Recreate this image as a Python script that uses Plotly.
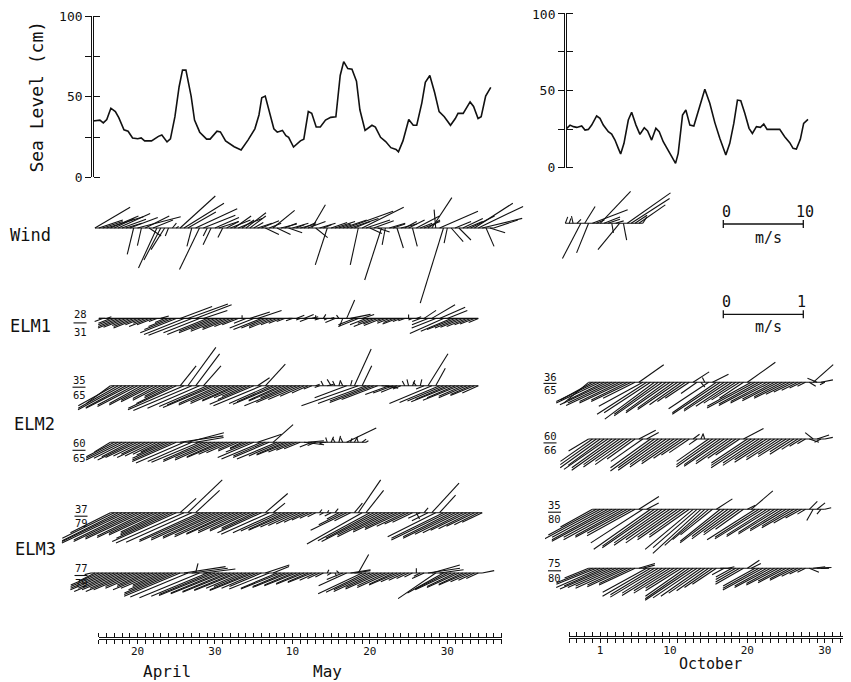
import plotly.graph_objects as go

# ------------------------------------------------------------------ data
# Day numbers: spring panel counts from 31 March (1 April = 1, 1 May = 31);
# autumn panel counts from 30 September (1 October = 1).
SEA_SPRING_DAY = [14.25, 15.14, 15.58, 16.03, 16.56, 17.14, 17.58, 18.25, 18.78, 19.36,
                  20.03, 20.47, 20.92, 21.81, 22.70, 23.14, 23.81, 24.25, 24.83, 25.37,
                  25.81, 26.25, 26.92, 27.36, 28.03, 28.92, 29.37, 30.26, 30.70, 31.37,
                  32.48, 33.37, 34.26, 35.15, 35.68, 36.04, 36.49, 36.93, 37.60, 38.04,
                  38.71, 39.16, 39.51, 40.14, 41.03, 41.47, 42.05, 42.49, 43.07, 43.60,
                  44.27, 44.94, 45.61, 46.17, 46.62, 47.15, 47.69, 48.27, 48.71, 49.38,
                  49.82, 50.27, 50.71, 51.38, 52.04, 52.71, 53.38, 53.69, 54.27, 55.02,
                  55.60, 56.05, 56.71, 57.16, 57.74, 58.36, 58.94, 59.61, 60.41, 61.03,
                  61.38, 62.05, 62.94, 63.39, 63.97, 64.37, 64.95, 65.61]
SEA_SPRING_CM = [35.0, 35.5, 33.8, 35.9, 42.9, 40.8, 37.0, 29.5, 28.6, 24.4,
                 23.9, 24.4, 22.6, 22.6, 25.4, 26.3, 22.0, 23.9, 37.6, 56.2,
                 66.5, 66.5, 50.4, 35.5, 28.0, 23.7, 23.7, 28.6, 28.2, 22.6,
                 19.0, 16.9, 23.1, 30.1, 38.7, 49.4, 50.4, 41.9, 30.1, 28.0,
                 29.1, 25.9, 24.8, 18.8, 22.6, 23.7, 40.8, 39.7, 31.2, 31.2,
                 35.5, 37.2, 37.6, 63.2, 71.8, 67.5, 67.1, 59.6, 41.9, 29.1,
                 30.8, 32.3, 31.2, 24.8, 22.2, 18.4, 17.3, 15.8, 22.6, 35.9,
                 32.3, 32.3, 46.2, 59.0, 63.2, 52.6, 40.8, 37.6, 32.3, 36.5,
                 39.7, 39.7, 46.8, 44.0, 36.5, 37.6, 50.4, 55.8]

SEA_FALL_DAY = [-3.32, -2.89, -2.46, -2.03, -1.39, -0.96, -0.53, -0.10, 0.54, 0.97,
                1.40, 2.05, 2.48, 2.91, 3.34, 3.64, 4.07, 4.63, 5.06, 5.62,
                6.13, 6.69, 7.12, 7.64, 8.19, 8.62, 9.14, 10.00, 10.73, 11.07,
                11.63, 12.06, 12.58, 13.09, 13.44, 13.95, 14.51, 15.15, 15.80, 16.44,
                17.22, 17.73, 18.25, 18.72, 19.15, 19.67, 20.22, 20.65, 21.17, 21.69,
                22.12, 22.55, 23.32, 24.18, 24.82, 25.47, 25.90, 26.33, 26.84, 27.27, 27.83]
SEA_FALL_CM = [25.5, 27.6, 26.6, 26.1, 27.0, 24.4, 24.8, 27.6, 33.5, 32.0,
               27.6, 23.3, 21.8, 17.9, 12.5, 8.9, 15.8, 30.9, 35.9, 27.6,
               21.6, 25.9, 23.8, 17.9, 25.5, 23.3, 16.8, 8.9, 2.8, 9.3,
               34.1, 37.4, 27.6, 27.0, 33.0, 41.7, 50.8, 41.7, 29.2, 19.0,
               8.2, 15.8, 28.7, 43.8, 43.4, 35.2, 25.5, 22.2, 26.6, 26.1,
               28.3, 24.8, 24.8, 24.8, 20.1, 16.2, 12.5, 12.1, 18.4, 28.7, 31.3]

STEP_DAYS = 0.5   # all stick series are 12-hourly

# Wind (m/s), east (u) and north (v) components
WIND_SPRING_START = 14.5
WIND_SPRING_U = [4.4, 3.0, 2.5, 4.6, 3.5, 2.5, 4.0, 3.0, 2.0, 3.5,
                 -0.8, 5.4, -0.5, 3.0, 1.5, 2.5, -2.3, -2.1, -1.7, -0.4,
                 0.5, 0.3, 4.4, 5.0, 3.5, -0.6, 5.2, -2.5, 4.0, -0.5,
                 -1.0, 3.0, 2.5, -0.6, 1.5, 2.5, 2.1, 3.0, 1.5, 2.5,
                 2.0, 1.2, 1.8, 2.2, 1.7, 1.5, 2.7, 1.7, 2.0, 1.5,
                 1.7, 2.0, 1.0, 2.0, 1.5, 2.2, 1.7, 1.5, 2.0, 1.0,
                 -1.5, 2.0, 2.5, 1.5, 3.0, 5.8, 3.5, 2.0, -1.0, 5.2,
                 3.0, 1.5, 2.5, 1.5, -2.1, -0.4, 2.0, 1.5, 0.8, 2.0,
                 1.5, 2.0, 0.6, 2.9, 1.5, 2.0, 1.5, 2.5, -0.2, 4.8,
                 -2.9, -0.4, 1.5, 2.0, 1.5, 2.5, 2.0, 3.0, 4.8, 5.6,
                 5.0, 1.0, 1.9, 3.0]
WIND_SPRING_V = [2.6, 1.0, 0.8, 1.4, 1.5, 1.2, 1.8, 1.1, 0.6, 1.3,
                 -3.3, 1.4, -2.2, 1.5, -1.0, 1.0, -5.0, -4.0, -2.7, -1.0,
                 0.6, 0.2, 4.0, 3.1, 2.0, -2.3, 2.4, -5.2, 1.6, -1.0,
                 -2.1, 1.3, 0.8, -1.2, 0.8, 1.0, 1.5, 1.2, 1.0, 1.9,
                 1.5, 0.7, 0.6, 0.9, -0.8, 0.6, 2.2, -0.8, 0.5, 0.6,
                 -0.6, 0.6, 0.4, 0.5, 0.7, 0.8, 2.9, -1.2, 0.6, 0.4,
                 -4.6, 0.7, 0.8, 0.5, 1.0, 2.1, 1.2, 0.8, -4.6, 2.6,
                 1.0, -0.7, 0.9, -0.5, -6.5, -2.1, 0.6, 0.5, -2.5, 0.5,
                 0.8, 1.0, -2.3, 1.5, 0.6, 0.8, 1.0, 3.8, 2.3, 2.1,
                 -9.4, -1.9, -1.7, 0.8, -1.5, 1.2, 0.8, 1.5, 3.1, 2.7,
                 1.2, -2.3, -0.6, 1.0]

WIND_FALL_START = -3.5
WIND_FALL_U = [0.3, 0.2, -0.2, 0.5, -2.3, 1.3, -1.5, 4.4, 1.0, 3.8,
               2.0, 1.5, 0.2, 1.0, -2.7, 0.4, 5.4, 4.8, 1.5, 3.3, 0.5]
WIND_FALL_V = [0.8, 0.6, 0.9, 0.5, -4.4, 2.1, -3.7, 1.7, 0.4, 4.0,
               0.8, 0.5, -1.2, 0.3, -3.3, -2.1, 3.8, 3.1, 1.0, 2.3, 0.8]

# Currents (cm/s)
ELM1_SPRING_START = 15.0
ELM1_SPRING_U = [8, -10, 6, -15, -20, -25, -30, -28, -22, -25,
                 -30, -20, -15, -25, -20, -10, 10, -12, -25, -35,
                 -45, 40, -50, 50, -54, 45, -45, 30, -50, -40,
                 -45, -35, -40, -30, -35, -25, -20, 0, -15, 25,
                 -30, 30, -35, -30, -25, -30, -20, -15, -10, 5,
                 -8, 10, -5, 12, -10, 8, 0, -6, 3, -4,
                 4, -12, -3, -4, 10, 25, -20, -25, 15, -20,
                 -15, -25, -18, -22, -10, -15, -12, -18, -10, -8,
                 0, -5, 6, -10, 15, -20, 29, -30, 32, -42,
                 25, -38, -35, -30, -28, -25, -20, -18, -12]
ELM1_SPRING_V = [0, -4, 2, -6, -8, -10, -12, -11, -9, -10,
                 -12, -8, -6, -10, -8, -4, 3, -5, -10, -14,
                 -18, 15, -20, 18, -21, 17, -18, 10, -20, -16,
                 -18, -14, -16, -12, -14, -10, -8, 4, -6, 8,
                 -12, 10, -14, -12, -10, -12, -8, -6, -4, 0,
                 -3, 4, -2, 5, -4, 2, 4, -2, 5, -2,
                 1, -5, 4, -10, 23, 5, -8, -10, 5, -8,
                 -6, -10, -7, -9, -4, -6, -5, -7, -4, -3,
                 5, -2, 2, -4, 10, -8, 17, -12, 14, -19,
                 10, -16, -14, -12, -11, -10, -8, -7, -5]

ELM2A_SPRING_START = 16.5
ELM2A_SPRING_U = [-30, -45, -50, -55, -50, -55, -45, -50, -40, -45,
                  -35, -40, -30, -35, -25, -30, -45, -60, 20, -70,
                  35, -73, 30, -65, 22, -60, -55, -65, -50, -55,
                  -45, -50, -40, -45, -35, -30, -40, -55, 15, -60,
                  25, -50, -45, -55, -40, -45, -35, -60, -50, -40,
                  -30, -20, -10, 5, -6, -3, 8, -5, -3, 2,
                  -3, -40, 2, 21, -71, 12, -60, -50, -55, -45,
                  20, 16, -30, -25, -20, -10, -3, -2, 3, -4,
                  2, -10, 25, -53, 12, -50, -45, -40, -50, -35,
                  -45, -30, -35, -25, -30, -20]
ELM2A_SPRING_V = [-22, -25, -28, -30, -27, -28, -24, -26, -22, -24,
                  -18, -20, -16, -18, -13, -15, -22, -28, 25, -30,
                  48, -31, 40, -28, 25, -26, -24, -27, -22, -24,
                  -20, -22, -18, -19, -15, -13, -17, -23, 10, -25,
                  27, -22, -20, -23, -18, -19, -15, -25, -21, -17,
                  -13, -9, -4, 2, -2, 6, 2, 8, 6, 7,
                  6, -15, 7, 46, -25, 25, -22, -19, -21, -17,
                  -2, -3, -11, -9, -8, -4, 6, 8, 7, 5,
                  8, -4, 40, -22, 22, -21, -19, -17, -20, -15,
                  -18, -13, -15, -11, -12, -9]

ELM2B_SPRING_START = 16.5
ELM2B_SPRING_U = [-20, -35, -40, -45, -40, -35, -45, -40, -35, -30,
                  -40, -35, -30, -25, -35, -45, -50, -55, 54, -60,
                  45, -55, 35, -60, -50, -55, -45, -50, -40, -45,
                  -35, -30, -20, -25, -15, -20, -30, -45, 30, -50,
                  -40, -45, 25, -50, -40, -35, -40, -30, -25, -20,
                  25, 20, -15, -10, 8, -5, -2, 3, -3, 2,
                  -3, 37, 2, 4, -2, 5, 3]
ELM2B_SPRING_V = [-12, -18, -20, -22, -20, -18, -22, -19, -17, -15,
                  -19, -17, -15, -12, -16, -20, -22, -24, 8, -26,
                  12, -24, 6, -25, -22, -24, -20, -22, -18, -19,
                  -15, -13, -9, -11, -7, -8, -12, -19, 10, -21,
                  -17, -19, 22, -21, -17, -15, -16, -12, -10, -8,
                  -3, 2, -6, -4, 0, -2, 6, 7, 5, 8,
                  6, 18, 5, 7, 6, 4, 2]

ELM3A_SPRING_START = 16.5
ELM3A_SPRING_U = [-50, -65, -70, -75, -80, -70, -75, -65, -70, -60,
                  -65, -55, -60, -50, -55, -60, -70, -80, 20, -85,
                  43, -82, 30, -75, -80, -70, -75, -65, -70, -60,
                  -65, -55, -60, -50, -55, -45, -50, -40, -45, -55,
                  28, -60, 15, -55, -50, -45, -50, -40, -35, -30,
                  -25, -20, -15, -10, 3, -5, 2, -8, 4, -15,
                  -30, -45, -20, 10, 28, -69, 22, -65, -60, -70,
                  -55, -60, -45, -50, -40, -45, -35, -30, -25, 4,
                  -15, 5, -20, 34, -60, 20, -65, -70, -60, -65,
                  -55, -50, -45, -40, -35, -30, -25]
ELM3A_SPRING_V = [-25, -32, -35, -36, -38, -34, -36, -31, -33, -29,
                  -31, -26, -28, -24, -26, -28, -32, -36, 18, -38,
                  41, -37, 28, -34, -36, -32, -34, -30, -32, -28,
                  -30, -26, -27, -23, -25, -21, -23, -19, -21, -25,
                  24, -27, 12, -25, -23, -21, -22, -18, -16, -14,
                  -12, -9, -7, -5, 4, -3, 3, -4, 5, -8,
                  -15, -22, -10, 12, 41, -39, 28, -35, -32, -36,
                  -28, -30, -22, -24, -19, -21, -17, -14, -12, -8,
                  -7, 6, -10, 37, -30, 22, -32, -34, -30, -32,
                  -27, -25, -22, -20, -17, -15, -12]

ELM3B_SPRING_START = 14.0
ELM3B_SPRING_U = [-8, -20, -35, -40, -45, -50, -45, -55, -50, -45,
                  -55, -50, -40, -45, -35, -40, -50, -45, -35, -40,
                  -50, -60, -65, -70, 52, -72, 45, 3, -75, 40,
                  -70, -65, -70, -60, -65, -55, -60, -50, -55, -45,
                  -40, -50, -55, -45, -40, 30, -50, 20, -45, -50,
                  -40, -45, -35, -40, -30, -35, -25, -30, -20, -15,
                  -10, 2, -5, 2, -3, -20, -35, 25, 20, 13,
                  -55, -50, -45, -50, -40, -45, -35, -40, -30, -35,
                  -25, -20, -15, -10, 0, -8, -15, 40, 35, -47,
                  30, -45, -40, -45, -35, -40, -30, -35, -25, -20,
                  -15, 15]
ELM3B_SPRING_V = [-2, -10, -15, -17, -19, -21, -19, -23, -21, -19,
                  -23, -21, -17, -19, -15, -17, -21, -19, -15, -17,
                  -21, -25, -27, -29, 8, -30, 6, 12, -31, 5,
                  -29, -27, -28, -25, -26, -23, -24, -21, -22, -19,
                  -17, -21, -22, -19, -17, 10, -20, 8, -19, -20,
                  -17, -18, -15, -16, -13, -14, -11, -12, -9, -7,
                  -5, 4, -3, -4, 3, -8, -16, 4, 3, 23,
                  -26, -24, -21, -23, -18, -20, -16, -18, -14, -15,
                  -11, -9, -7, -5, 6, -4, -7, 6, 10, -32,
                  4, -25, -20, -21, -17, -18, -14, -15, -11, -9,
                  -7, 3]

ELM2A_FALL_START = -0.5
ELM2A_FALL_U = [-31, -40, -50, -55, -45, -60, -55, -62, -50, -55,
                -45, -50, -40, 31, -55, -62, -58, -62, -55, -60,
                -50, -55, -45, -50, -40, -35, -30, 20, -20, 5,
                -3, -50, 20, -55, -60, -50, -55, -45, -40, -35,
                -30, 35, -55, -60, -50, -55, -45, -50, -40, -45,
                -35, -40, -30, -25, -20, -15, -10, 8, 25, -12,
                15, -6]
ELM2A_FALL_V = [-26, -22, -24, -26, -22, -28, -26, -29, -24, -26,
                -22, -24, -20, 22, -30, -40, -38, -46, -40, -42,
                -36, -38, -32, -34, -28, -24, -20, 13, -14, -6,
                6, -33, 10, -38, -40, -34, -36, -30, -26, -22,
                -20, 25, -30, -32, -27, -29, -24, -26, -21, -23,
                -18, -20, -15, -12, -10, -7, -5, -5, 22, 5,
                3, -3]

ELM2B_FALL_START = -0.5
ELM2B_FALL_U = [-25, -40, -45, -50, -45, -55, -50, -55, -45, -50,
                -40, -45, -35, 21, -40, 15, -50, -55, -50, -55,
                -45, -50, -40, -45, -35, -30, -25, 8, -10, 3,
                -2, -40, -45, -50, -45, -50, -40, -45, -35, -30,
                25, -45, -50, -55, -45, -50, -40, -45, -35, -40,
                -30, -35, -25, -30, -20, -15, -10, 12, -10, 15,
                -8, 10]
ELM2B_FALL_V = [-15, -28, -32, -36, -33, -38, -36, -39, -32, -35,
                -28, -32, -25, 11, -28, 8, -36, -40, -36, -39,
                -32, -35, -28, -31, -24, -20, -17, 6, -7, 7,
                6, -28, -32, -35, -32, -34, -28, -31, -24, -20,
                13, -30, -33, -36, -30, -33, -26, -29, -23, -26,
                -19, -22, -16, -19, -13, -9, -6, -4, 8, 5,
                -4, 2]

ELM3A_FALL_START = 0.0
ELM3A_FALL_U = [-40, -60, -75, -65, -70, -75, -65, -70, -60, -65,
                -55, -60, 25, -65, 15, -71, -65, -70, -60, -65,
                -55, -60, -50, -55, -45, -50, -60, -55, -60, -50,
                -45, -40, 20, -50, -55, -45, -50, -40, -45, -35,
                10, 27, -60, -55, -60, -50, -55, -45, -50, -40,
                -45, -35, -40, -30, -20, -10, 10, -8, 10, -5,
                8]
ELM3A_FALL_V = [-22, -32, -40, -35, -38, -40, -35, -38, -33, -35,
                -30, -33, 16, -42, 8, -50, -46, -48, -42, -45,
                -38, -42, -35, -38, -32, -35, -50, -48, -55, -45,
                -38, -32, 13, -40, -42, -34, -37, -29, -32, -25,
                5, 23, -38, -35, -37, -32, -34, -29, -31, -25,
                -27, -21, -23, -17, -11, -6, 10, -14, 8, -6,
                2]

ELM3B_FALL_START = -0.5
ELM3B_FALL_U = [-30, -45, -50, -55, -50, -60, -55, -50, -55, -45,
                -50, -40, -45, 20, 15, -55, -60, -55, -60, -50,
                -55, -45, -50, -40, -45, -50, -55, -60, -55, -50,
                -45, -40, -35, -30, 10, -15, 8, -20, -25, -30,
                -35, 15, 12, -40, -45, -50, -40, -45, -35, -40,
                -30, -35, -25, -30, -20, -15, -10, 12, 15, 18,
                10, 6]
ELM3B_FALL_V = [-12, -18, -20, -24, -22, -26, -24, -22, -25, -21,
                -23, -19, -21, 6, 4, -30, -35, -33, -36, -31,
                -34, -28, -31, -25, -28, -35, -38, -40, -37, -35,
                -31, -28, -24, -20, 0, -8, 2, -11, -14, -17,
                -20, 10, 6, -22, -25, -27, -22, -24, -19, -21,
                -16, -18, -13, -15, -10, -7, -5, -5, 2, 1,
                0, 1]

SPRING_LABEL_DAYS = [20, 30, 40, 50, 60]
SPRING_LABEL_TEXT = ["20", "30", "10", "20", "30"]
FALL_LABEL_DAYS = [1, 10, 20, 30]
FALL_LABEL_TEXT = ["1", "10", "20", "30"]
LEVEL_TICKS = [0, 25, 50, 75, 100]
LEVEL_LABELS = ["0", "", "50", "", "100"]

# ------------------------------------------------------------------ layout constants (pixels)
PAGE_W, PAGE_H = 851, 682
BODY_MARGIN = 8                      # default page margin around the plot div
W, H = PAGE_W - BODY_MARGIN, PAGE_H - BODY_MARGIN
PPD = 7.745        # pixels per day on both time axes
CUR_PX = 0.8       # pixels per cm/s   (1 m/s bar = 80 px)
WIND_PX = 8.0      # pixels per m/s    (10 m/s bar = 80 px)
STICK_TOP, STICK_BOT = 184.0, 612.0

FONT = "DejaVu Sans Mono"
INK = "#111111"


def fx(px):
    return (px - BODY_MARGIN) / W


def fy(py):
    return 1 - (py - BODY_MARGIN) / H


def day_spring(px):
    return 15 + (px - 98.8) / PPD


def day_fall(px):
    return 1 + (px - 600.2) / PPD


def yu(py):
    return (STICK_BOT - py) / CUR_PX


ROW_BASE_SPRING = {"wind": 228.0, "elm1": 318.4, "elm2a": 385.8, "elm2b": 442.3,
                   "elm3a": 512.7, "elm3b": 573.0}
ROW_BASE_FALL = {"wind": 223.3, "elm2a": 382.3, "elm2b": 439.0,
                 "elm3a": 509.3, "elm3b": 568.3}


def sticks(start, u, v, base_px, scale_px, xaxis):
    base = yu(base_px)
    n = min(len(u), len(v))
    t = [start + i * STEP_DAYS for i in range(n)]
    xs = [t[0], t[-1], None]
    ys = [base, base, None]
    for ti, a, b in zip(t, u, v):
        xs += [ti, ti + a * scale_px / PPD, None]
        ys += [base, base + b * scale_px / CUR_PX, None]
    return go.Scatter(x=xs, y=ys, mode="lines", xaxis=xaxis, yaxis="y7",
                      line=dict(color=INK, width=1.1), hoverinfo="skip",
                      showlegend=False)


def anchor_trace(xa, ya, x, y):
    # invisible point so that the axis-only subplot is created and drawn
    return go.Scatter(x=[x], y=[y], mode="markers", xaxis=xa, yaxis=ya,
                      marker=dict(size=1, opacity=0), hoverinfo="skip",
                      showlegend=False)


fig = go.Figure()

# sea level
fig.add_trace(go.Scatter(x=SEA_SPRING_DAY, y=SEA_SPRING_CM, mode="lines",
                         xaxis="x3", yaxis="y3", line=dict(color=INK, width=1.6),
                         hoverinfo="skip", showlegend=False))
fig.add_trace(go.Scatter(x=SEA_FALL_DAY, y=SEA_FALL_CM, mode="lines",
                         xaxis="x5", yaxis="y5", line=dict(color=INK, width=1.6),
                         hoverinfo="skip", showlegend=False))

# axis-only subplots
fig.add_trace(anchor_trace("x", "y", 30, 0.5))
fig.add_trace(anchor_trace("x2", "y2", 10, 0.5))
fig.add_trace(anchor_trace("x4", "y4", 0.5, 50))
fig.add_trace(anchor_trace("x6", "y6", 0.5, 50))

# stick rows
fig.add_trace(sticks(WIND_SPRING_START, WIND_SPRING_U, WIND_SPRING_V,
                     ROW_BASE_SPRING["wind"], WIND_PX, "x7"))
fig.add_trace(sticks(ELM1_SPRING_START, ELM1_SPRING_U, ELM1_SPRING_V,
                     ROW_BASE_SPRING["elm1"], CUR_PX, "x7"))
fig.add_trace(sticks(ELM2A_SPRING_START, ELM2A_SPRING_U, ELM2A_SPRING_V,
                     ROW_BASE_SPRING["elm2a"], CUR_PX, "x7"))
fig.add_trace(sticks(ELM2B_SPRING_START, ELM2B_SPRING_U, ELM2B_SPRING_V,
                     ROW_BASE_SPRING["elm2b"], CUR_PX, "x7"))
fig.add_trace(sticks(ELM3A_SPRING_START, ELM3A_SPRING_U, ELM3A_SPRING_V,
                     ROW_BASE_SPRING["elm3a"], CUR_PX, "x7"))
fig.add_trace(sticks(ELM3B_SPRING_START, ELM3B_SPRING_U, ELM3B_SPRING_V,
                     ROW_BASE_SPRING["elm3b"], CUR_PX, "x7"))

fig.add_trace(sticks(WIND_FALL_START, WIND_FALL_U, WIND_FALL_V,
                     ROW_BASE_FALL["wind"], WIND_PX, "x8"))
fig.add_trace(sticks(ELM2A_FALL_START, ELM2A_FALL_U, ELM2A_FALL_V,
                     ROW_BASE_FALL["elm2a"], CUR_PX, "x8"))
fig.add_trace(sticks(ELM2B_FALL_START, ELM2B_FALL_U, ELM2B_FALL_V,
                     ROW_BASE_FALL["elm2b"], CUR_PX, "x8"))
fig.add_trace(sticks(ELM3A_FALL_START, ELM3A_FALL_U, ELM3A_FALL_V,
                     ROW_BASE_FALL["elm3a"], CUR_PX, "x8"))
fig.add_trace(sticks(ELM3B_FALL_START, ELM3B_FALL_U, ELM3B_FALL_V,
                     ROW_BASE_FALL["elm3b"], CUR_PX, "x8"))

# scale bars (10 m/s wind, 1 m/s current) drawn with the same stick scales
tick_half = 4.0 / CUR_PX
for bar_py, length_px in ((224.0, 10 * WIND_PX), (314.3, 100 * CUR_PX)):
    x0 = day_fall(723.3)
    x1 = x0 + length_px / PPD
    y0 = yu(bar_py)
    fig.add_trace(go.Scatter(
        x=[x0, x1, None, x0, x0, None, x1, x1],
        y=[y0, y0, None, y0 - tick_half, y0 + tick_half, None, y0 - tick_half, y0 + tick_half],
        mode="lines", xaxis="x8", yaxis="y7", line=dict(color=INK, width=1.3),
        hoverinfo="skip", showlegend=False))

hidden = dict(visible=False, showgrid=False, zeroline=False, fixedrange=True,
              automargin=False)


def time_axis(dom, rng, label_days, label_text, ydom_anchor):
    vals = list(range(int(round(rng[0])), int(rng[1]) + 1))
    text = [label_text[label_days.index(d)] if d in label_days else "" for d in vals]
    return dict(domain=dom, range=rng, anchor=ydom_anchor, showline=True,
                linecolor=INK, linewidth=1.3, ticks="outside", ticklen=4,
                tickwidth=1.1, tickcolor=INK, mirror="ticks", tickmode="array",
                tickvals=vals, ticktext=text, showgrid=False, zeroline=False,
                ticklabelstandoff=-2, automargin=False,
                tickfont=dict(family=FONT, size=11, color=INK), fixedrange=True)


def level_axis(dom, labels):
    return dict(domain=dom, range=[0, 100], showline=True, linecolor=INK,
                linewidth=1.3, ticks="outside", ticklen=6, tickwidth=1.2,
                tickcolor=INK, mirror="ticks", tickmode="array",
                tickvals=LEVEL_TICKS, ticktext=labels,
                showgrid=False, zeroline=False, automargin=False,
                tickfont=dict(family=FONT, size=13, color=INK), fixedrange=True)


sl_left_dom = [fy(177.3), fy(16.2)]
sl_right_dom = [fy(167.7), fy(13.3)]
# the top label of the autumn axis sits at the page edge; it is added as a note below
right_labels = [t if v < 100 else "" for v, t in zip(LEVEL_TICKS, LEVEL_LABELS)]

fig.update_layout(
    width=W, height=H, autosize=False,
    margin=dict(l=0, r=0, t=0, b=0, pad=0, autoexpand=False),
    paper_bgcolor="white", plot_bgcolor="rgba(0,0,0,0)",
    showlegend=False,
    xaxis=time_axis([fx(98.8), fx(501.5)], [15, 67], SPRING_LABEL_DAYS, SPRING_LABEL_TEXT, "y"),
    yaxis=dict(domain=[fy(638.6), fy(638.1)], range=[0, 1], anchor="x", **hidden),
    xaxis2=time_axis([fx(569.2), fx(850.5)], [-3, day_fall(850.5)], FALL_LABEL_DAYS, FALL_LABEL_TEXT, "y2"),
    yaxis2=dict(domain=[fy(637.7), fy(637.2)], range=[0, 1], anchor="x2", **hidden),
    xaxis3=dict(domain=[fx(92.3), fx(501.5)], range=[day_spring(92.3), day_spring(501.5)], anchor="y3", **hidden),
    yaxis3=dict(domain=sl_left_dom, range=[0, 100], anchor="x3", **hidden),
    xaxis4=dict(domain=[fx(92.3), fx(92.8)], range=[0, 1], anchor="y4", **hidden),
    yaxis4=dict(anchor="x4", **level_axis(sl_left_dom, LEVEL_LABELS)),
    xaxis5=dict(domain=[fx(565.0), fx(850.0)], range=[day_fall(565.0), day_fall(850.0)], anchor="y5", **hidden),
    yaxis5=dict(domain=sl_right_dom, range=[0, 100], anchor="x5", **hidden),
    xaxis6=dict(domain=[fx(565.0), fx(565.5)], range=[0, 1], anchor="y6", **hidden),
    yaxis6=dict(anchor="x6", **level_axis(sl_right_dom, right_labels)),
    xaxis7=dict(domain=[fx(55.0), fx(545.0)], range=[day_spring(55.0), day_spring(545.0)], anchor="y7", **hidden),
    yaxis7=dict(domain=[fy(STICK_BOT), fy(STICK_TOP)], range=[0, yu(STICK_TOP)], anchor="x7", **hidden),
    xaxis8=dict(domain=[fx(545.0), fx(PAGE_W)], range=[day_fall(545.0), day_fall(PAGE_W)], anchor="y7", **hidden),
)

annotations = []


def note(text, px, py, size, xanchor="center", angle=0):
    annotations.append(dict(text=text, x=fx(px), y=fy(py), xref="paper", yref="paper",
                            xanchor=xanchor, yanchor="middle", showarrow=False,
                            textangle=angle, borderpad=0,
                            font=dict(family=FONT, size=size, color=INK)))


note("100", 556.0, 14.5, 13, xanchor="right")
note("Sea Level (cm)", 36.2, 96.4, 18, angle=-90)
note("Wind", 8.6, 235.0, 17, xanchor="left")
note("ELM1", 8.6, 326.0, 17, xanchor="left")
note("ELM2", 13.0, 424.4, 17, xanchor="left")
note("ELM3", 13.5, 548.9, 17, xanchor="left")

shapes = []
FRACTIONS = [("28", "31", 80.0, 314.3, 331.5, 322.9),
             ("35", "65", 79.0, 379.6, 395.0, 387.2),
             ("60", "65", 79.0, 442.6, 458.0, 450.3),
             ("37", "79", 81.0, 509.3, 523.0, 516.2),
             ("77", "79", 81.0, 567.8, 583.3, 575.5),
             ("36", "65", 550.0, 376.7, 390.0, 383.4),
             ("60", "66", 550.0, 435.7, 450.0, 442.9),
             ("35", "80", 554.5, 505.0, 519.3, 512.2),
             ("75", "80", 554.5, 563.3, 578.3, 570.8)]
for top, bot, cx, ty, by, bar in FRACTIONS:
    note(top, cx, ty, 10.5)
    note(bot, cx, by, 10.5)
    shapes.append(dict(type="line", xref="paper", yref="paper",
                       x0=fx(cx - 6.5), x1=fx(cx + 6.5), y0=fy(bar), y1=fy(bar),
                       line=dict(color=INK, width=1.1)))

note("0", 726.7, 211.7, 15)
note("10", 805.0, 211.7, 15)
note("m/s", 768.0, 238.3, 15)
note("0", 726.7, 301.7, 15)
note("1", 801.7, 301.7, 15)
note("m/s", 768.0, 326.7, 15)

note("April", 167.0, 671.0, 16)
note("May", 327.0, 671.0, 16)
note("October", 710.0, 664.0, 15)

fig.update_layout(annotations=annotations, shapes=shapes)

fig.write_html("out.html", config={"displayModeBar": False, "responsive": False})
